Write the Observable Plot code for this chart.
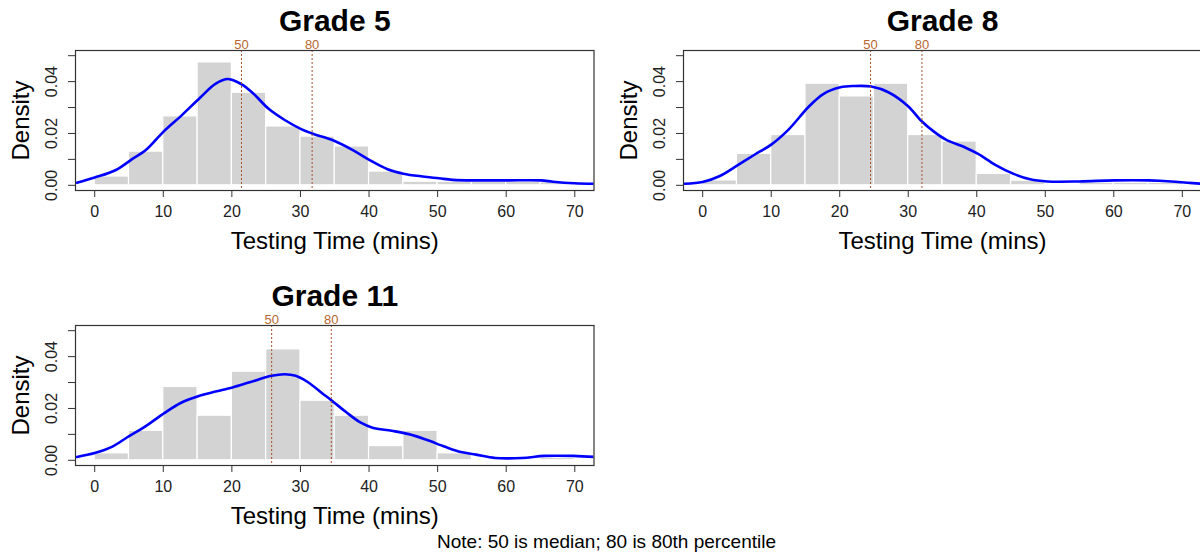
<!DOCTYPE html>
<html><head><meta charset="utf-8">
<script src="https://cdn.jsdelivr.net/npm/d3@7"></script>
<script src="https://cdn.jsdelivr.net/npm/@observablehq/plot@0.6"></script>
<style>
body{margin:0;background:#fff;}
#wrap{position:relative;width:1200px;height:556px;overflow:hidden;font-family:"Liberation Sans",Arial,sans-serif;}
.panel{position:absolute;}
#note{position:absolute;left:437px;top:531px;font-size:19px;color:#000;white-space:nowrap;}
</style></head><body><div id="wrap"></div>
<script>
// ---- data ----
const binStarts = [0,5,10,15,20,25,30,35,40,45,50,55,60,65,70];
const binWidth = 5;
const grade5Hist  = [0.0034,0.0130,0.0266,0.0474,0.0357,0.0227,0.0188,0.0150,0.0053,0.0014,0.0014,0.0014,0.0014,0.0012,0.0008];
const grade8Hist  = [0.0019,0.0121,0.0194,0.0392,0.0343,0.0392,0.0194,0.0169,0.0044,0.0018,0.0000,0.0010,0.0010,0.0010,0.0000];
const grade11Hist = [0.0027,0.0114,0.0283,0.0172,0.0342,0.0428,0.0230,0.0172,0.0055,0.0114,0.0027,0.0000,0.0000,0.0009,0.0000];

const grade5CurveX = [-2.6,0,3.1,5.3,7.5,10,12.6,15.4,17.6,19.3,20.1,21.5,23.2,25.4,27.7,30.1,31.7,34.9,37.7,40.1,42.7,45,47.8,50.2,52.2,56.1,60.2,65.1,66.8,70,72.9];
const grade5CurveY = [0.0010,0.0030,0.0059,0.0098,0.0137,0.0206,0.0268,0.0339,0.0391,0.0410,0.0406,0.0388,0.0352,0.0294,0.0252,0.0217,0.0200,0.0172,0.0135,0.0097,0.0062,0.0045,0.0034,0.0027,0.0021,0.0019,0.0019,0.0019,0.0014,0.0008,0.0006];

const grade8CurveX = [-2.6,0,2.5,5.3,7.5,10.1,12.6,15.4,17.6,20.1,22.1,24.6,27.1,29.9,32,33.8,35.5,38.3,40.2,42.7,45.3,47.8,50.3,55,60,65.1,68.4,70.7,72.8];
const grade8CurveY = [0.0006,0.0013,0.0036,0.0081,0.0117,0.0159,0.0217,0.0301,0.0352,0.0378,0.0383,0.0381,0.0359,0.0307,0.0246,0.0206,0.0176,0.0146,0.0121,0.0079,0.0045,0.0023,0.0015,0.0015,0.0019,0.0019,0.0015,0.0010,0.0006];

const grade11CurveX = [-2.6,0,2.5,4.7,7.5,10.2,12.6,15.4,17.6,20.1,22.6,25.8,27.7,29.3,31,33.2,34.5,36.6,38.8,40.5,43.3,45.8,48.3,51.1,53.4,55.6,58.4,62.3,65.6,69.8,72.9];
const grade11CurveY = [0.0013,0.0028,0.0052,0.0088,0.0133,0.0183,0.0222,0.0250,0.0265,0.0281,0.0301,0.0326,0.0332,0.0326,0.0303,0.0258,0.0232,0.0187,0.0145,0.0126,0.0114,0.0101,0.0080,0.0052,0.0032,0.0022,0.0009,0.0009,0.0017,0.0017,0.0013];

const percentileLabels = ["50","80"];
const grade5Pct  = [21.4, 31.7];
const grade8Pct  = [24.5, 32.0];
const grade11Pct = [25.8, 34.5];

const xTicks = [0,10,20,30,40,50,60,70];
const yTicks = [0,0.01,0.02,0.03,0.04,0.05];
const yTickLabels = [0,0.02,0.04];

const panels = [
  {title:"Grade 5",  hist:grade5Hist,  cx:grade5CurveX,  cy:grade5CurveY,  pct:grade5Pct,  left:0,   top:0,   width:600, ml:75,  mr:6.5},
  {title:"Grade 8",  hist:grade8Hist,  cx:grade8CurveX,  cy:grade8CurveY,  pct:grade8Pct,  left:600, top:0,   width:601, ml:83,  mr:0},
  {title:"Grade 11", hist:grade11Hist, cx:grade11CurveX, cy:grade11CurveY, pct:grade11Pct, left:0,   top:275, width:600, ml:75,  mr:6.5}
];

const wrap = document.getElementById("wrap");
const font = '"Liberation Sans", Arial, sans-serif';

for (const p of panels) {
  const bins = binStarts.map((s,i) => ({x1:s, x2:s+binWidth, d:p.hist[i]}));
  const curve = p.cx.map((x,i) => ({x, y:p.cy[i]}));
  const pcts = p.pct.map((v,i) => ({v, label:percentileLabels[i]}));
  const chart = Plot.plot({
    width: p.width, height: 278,
    marginLeft: p.ml, marginRight: p.mr, marginTop: 50, marginBottom: 88,
    style: {fontFamily: font, background: "white", overflow: "visible"},
    x: {domain: [-2.8, 72.8]},
    y: {domain: [-0.002, 0.052]},
    marks: [
      Plot.rectY(bins, {x1:"x1", x2:"x2", y:"d", fill:"#d3d3d3", stroke:"white", strokeWidth:1.2, clip:true}),
      Plot.line(curve, {x:"x", y:"y", stroke:"#0000ff", strokeWidth:2.6, curve:"catmull-rom", clip:true}),
      Plot.ruleX(pcts, {x:"v", stroke:"#A0522D", strokeWidth:1, strokeDasharray:"2,2"}),
      Plot.text(pcts, {x:"v", text:"label", frameAnchor:"top", lineAnchor:"bottom", dy:-2, fill:"#B8662F", fontSize:13}),
      Plot.frame({stroke:"#333", strokeWidth:1.2}),
      Plot.axisX({ticks:xTicks, tickSize:7, tickPadding:8, fontSize:16, label:null, stroke:"#333", fill:"#222"}),
      Plot.axisY({ticks:yTicks, tickSize:7, tickFormat:() => "", label:null, stroke:"#333"}),
      Plot.text(yTickLabels, {y:d => d, text:d => d.toFixed(2), frameAnchor:"left", textAnchor:"middle", dx:-24, rotate:-90, fontSize:16, fill:"#222"}),
      Plot.text(["Testing Time (mins)"], {text:d => d, frameAnchor:"bottom", lineAnchor:"bottom", dy:58, fontSize:24, fill:"#000"}),
      Plot.text(["Density"], {text:d => d, frameAnchor:"left", textAnchor:"middle", dx:-54, rotate:-90, fontSize:24, fill:"#000"}),
      Plot.text([p.title], {text:d => d, frameAnchor:"top", lineAnchor:"bottom", dy:-20, fontSize:30, fontWeight:"bold", fill:"#000"})
    ]
  });
  chart.classList.add("panel");
  chart.style.left = p.left + "px";
  chart.style.top = p.top + "px";
  wrap.appendChild(chart);
}

const note = document.createElement("div");
note.id = "note";
note.textContent = "Note: 50 is median; 80 is 80th percentile";
wrap.appendChild(note);
</script>
</body></html>
